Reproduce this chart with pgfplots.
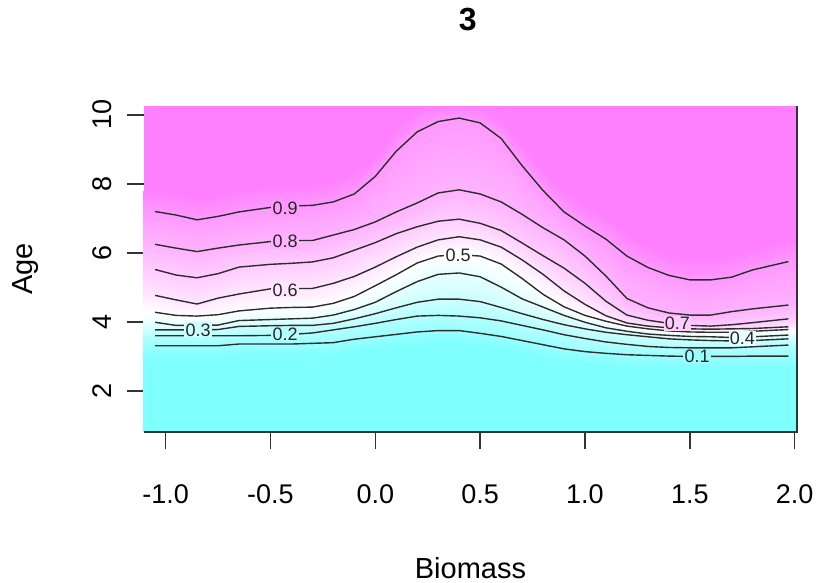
\documentclass[border=0pt]{standalone}
\usepackage{fontspec}
\setmainfont{Liberation Sans}
\usepackage{pgfplots}
\usepackage{pgfplotstable}
\pgfplotsset{compat=1.18}
\definecolor{cmmag}{RGB}{255,128,255}
\definecolor{linecol}{RGB}{45,45,45}

% long table: one scanline per level (v), x varies fastest, 32 points per scanline
\pgfplotstableread{
x y v
-1.2 0.6 0
-1.05 0.6 0
-0.95 0.6 0
-0.85 0.6 0
-0.75 0.6 0
-0.65 0.6 0
-0.5 0.6 0
-0.4 0.6 0
-0.3 0.6 0
-0.2 0.6 0
-0.1 0.6 0
0 0.6 0
0.1 0.6 0
0.2 0.6 0
0.3 0.6 0
0.4 0.6 0
0.5 0.6 0
0.6 0.6 0
0.7 0.6 0
0.8 0.6 0
0.9 0.6 0
1.0 0.6 0
1.1 0.6 0
1.2 0.6 0
1.3 0.6 0
1.4 0.6 0
1.5 0.6 0
1.6 0.6 0
1.7 0.6 0
1.8 0.6 0
1.97 0.6 0
2.1 0.6 0
-1.2 2.96 0
-1.05 2.96 0
-0.95 2.96 0
-0.85 2.96 0
-0.75 2.96 0
-0.65 3.01 0
-0.5 3.01 0
-0.4 3.01 0
-0.3 3.03 0
-0.2 3.05 0
-0.1 3.15 0
0 3.22 0
0.1 3.29 0
0.2 3.36 0
0.3 3.40 0
0.4 3.40 0
0.5 3.32 0
0.6 3.23 0
0.7 3.11 0
0.8 2.99 0
0.9 2.87 0
1.0 2.79 0
1.1 2.74 0
1.2 2.70 0
1.3 2.68 0
1.4 2.66 0
1.5 2.65 0
1.6 2.65 0
1.7 2.65 0
1.8 2.66 0
1.97 2.66 0
2.1 2.66 0
-1.2 3.31 0.1
-1.05 3.31 0.1
-0.95 3.31 0.1
-0.85 3.31 0.1
-0.75 3.31 0.1
-0.65 3.36 0.1
-0.5 3.36 0.1
-0.4 3.36 0.1
-0.3 3.38 0.1
-0.2 3.40 0.1
-0.1 3.50 0.1
0 3.57 0.1
0.1 3.64 0.1
0.2 3.71 0.1
0.3 3.75 0.1
0.4 3.75 0.1
0.5 3.67 0.1
0.6 3.58 0.1
0.7 3.46 0.1
0.8 3.34 0.1
0.9 3.22 0.1
1.0 3.14 0.1
1.1 3.09 0.1
1.2 3.05 0.1
1.3 3.03 0.1
1.4 3.01 0.1
1.5 3.00 0.1
1.6 3.00 0.1
1.7 3.00 0.1
1.8 3.01 0.1
1.97 3.01 0.1
2.1 3.01 0.1
-1.2 3.60 0.2
-1.05 3.60 0.2
-0.95 3.60 0.2
-0.85 3.60 0.2
-0.75 3.60 0.2
-0.65 3.60 0.2
-0.5 3.61 0.2
-0.4 3.64 0.2
-0.3 3.68 0.2
-0.2 3.77 0.2
-0.1 3.86 0.2
0 3.96 0.2
0.1 4.07 0.2
0.2 4.17 0.2
0.3 4.19 0.2
0.4 4.17 0.2
0.5 4.12 0.2
0.6 4.03 0.2
0.7 3.90 0.2
0.8 3.77 0.2
0.9 3.63 0.2
1.0 3.52 0.2
1.1 3.42 0.2
1.2 3.35 0.2
1.3 3.29 0.2
1.4 3.26 0.2
1.5 3.25 0.2
1.6 3.25 0.2
1.7 3.25 0.2
1.8 3.28 0.2
1.97 3.33 0.2
2.1 3.33 0.2
-1.2 3.77 0.3
-1.05 3.77 0.3
-0.95 3.77 0.3
-0.85 3.77 0.3
-0.75 3.78 0.3
-0.65 3.87 0.3
-0.5 3.89 0.3
-0.4 3.90 0.3
-0.3 3.90 0.3
-0.2 3.96 0.3
-0.1 4.09 0.3
0 4.24 0.3
0.1 4.41 0.3
0.2 4.57 0.3
0.3 4.66 0.3
0.4 4.66 0.3
0.5 4.59 0.3
0.6 4.42 0.3
0.7 4.24 0.3
0.8 4.07 0.3
0.9 3.92 0.3
1.0 3.80 0.3
1.1 3.70 0.3
1.2 3.63 0.3
1.3 3.57 0.3
1.4 3.51 0.3
1.5 3.48 0.3
1.6 3.46 0.3
1.7 3.45 0.3
1.8 3.46 0.3
1.97 3.51 0.3
2.1 3.51 0.3
-1.2 3.99 0.4
-1.05 3.99 0.4
-0.95 3.90 0.4
-0.85 3.90 0.4
-0.75 3.91 0.4
-0.65 4.04 0.4
-0.5 4.07 0.4
-0.4 4.09 0.4
-0.3 4.11 0.4
-0.2 4.20 0.4
-0.1 4.36 0.4
0 4.57 0.4
0.1 4.88 0.4
0.2 5.17 0.4
0.3 5.38 0.4
0.4 5.42 0.4
0.5 5.31 0.4
0.6 5.01 0.4
0.7 4.67 0.4
0.8 4.43 0.4
0.9 4.19 0.4
1.0 3.99 0.4
1.1 3.83 0.4
1.2 3.73 0.4
1.3 3.65 0.4
1.4 3.61 0.4
1.5 3.58 0.4
1.6 3.57 0.4
1.7 3.55 0.4
1.8 3.57 0.4
1.97 3.62 0.4
2.1 3.62 0.4
-1.2 4.28 0.5
-1.05 4.28 0.5
-0.95 4.19 0.5
-0.85 4.17 0.5
-0.75 4.21 0.5
-0.65 4.32 0.5
-0.5 4.40 0.5
-0.4 4.42 0.5
-0.3 4.43 0.5
-0.2 4.54 0.5
-0.1 4.74 0.5
0 5.05 0.5
0.1 5.37 0.5
0.2 5.71 0.5
0.3 5.91 0.5
0.4 5.95 0.5
0.5 5.91 0.5
0.6 5.68 0.5
0.7 5.26 0.5
0.8 4.80 0.5
0.9 4.44 0.5
1.0 4.19 0.5
1.1 4.02 0.5
1.2 3.88 0.5
1.3 3.80 0.5
1.4 3.74 0.5
1.5 3.71 0.5
1.6 3.70 0.5
1.7 3.70 0.5
1.8 3.73 0.5
1.97 3.78 0.5
2.1 3.78 0.5
-1.2 4.77 0.6
-1.05 4.77 0.6
-0.95 4.64 0.6
-0.85 4.52 0.6
-0.75 4.69 0.6
-0.65 4.81 0.6
-0.5 4.96 0.6
-0.4 4.97 0.6
-0.3 4.97 0.6
-0.2 5.12 0.6
-0.1 5.32 0.6
0 5.59 0.6
0.1 5.89 0.6
0.2 6.17 0.6
0.3 6.38 0.6
0.4 6.47 0.6
0.5 6.38 0.6
0.6 6.17 0.6
0.7 5.80 0.6
0.8 5.38 0.6
0.9 4.90 0.6
1.0 4.51 0.6
1.1 4.18 0.6
1.2 3.97 0.6
1.3 3.88 0.6
1.4 3.83 0.6
1.5 3.80 0.6
1.6 3.79 0.6
1.7 3.80 0.6
1.8 3.81 0.6
1.97 3.86 0.6
2.1 3.86 0.6
-1.2 5.52 0.7
-1.05 5.52 0.7
-0.95 5.36 0.7
-0.85 5.28 0.7
-0.75 5.40 0.7
-0.65 5.59 0.7
-0.5 5.67 0.7
-0.4 5.70 0.7
-0.3 5.74 0.7
-0.2 5.86 0.7
-0.1 6.08 0.7
0 6.30 0.7
0.1 6.56 0.7
0.2 6.76 0.7
0.3 6.92 0.7
0.4 6.98 0.7
0.5 6.86 0.7
0.6 6.65 0.7
0.7 6.29 0.7
0.8 5.92 0.7
0.9 5.56 0.7
1.0 5.12 0.7
1.1 4.60 0.7
1.2 4.20 0.7
1.3 4.05 0.7
1.4 3.96 0.7
1.5 3.90 0.7
1.6 3.88 0.7
1.7 3.92 0.7
1.8 3.98 0.7
1.97 4.09 0.7
2.1 4.09 0.7
-1.2 6.25 0.8
-1.05 6.25 0.8
-0.95 6.14 0.8
-0.85 6.04 0.8
-0.75 6.14 0.8
-0.65 6.23 0.8
-0.5 6.33 0.8
-0.4 6.36 0.8
-0.3 6.36 0.8
-0.2 6.52 0.8
-0.1 6.68 0.8
0 6.90 0.8
0.1 7.19 0.8
0.2 7.45 0.8
0.3 7.74 0.8
0.4 7.83 0.8
0.5 7.71 0.8
0.6 7.48 0.8
0.7 7.12 0.8
0.8 6.73 0.8
0.9 6.38 0.8
1.0 5.91 0.8
1.1 5.33 0.8
1.2 4.68 0.8
1.3 4.41 0.8
1.4 4.26 0.8
1.5 4.20 0.8
1.6 4.20 0.8
1.7 4.30 0.8
1.8 4.38 0.8
1.97 4.49 0.8
2.1 4.49 0.8
-1.2 7.20 0.9
-1.05 7.20 0.9
-0.95 7.10 0.9
-0.85 6.96 0.9
-0.75 7.06 0.9
-0.65 7.19 0.9
-0.5 7.32 0.9
-0.4 7.36 0.9
-0.3 7.38 0.9
-0.2 7.48 0.9
-0.1 7.71 0.9
0 8.22 0.9
0.1 8.95 0.9
0.2 9.51 0.9
0.3 9.81 0.9
0.4 9.91 0.9
0.5 9.77 0.9
0.6 9.32 0.9
0.7 8.53 0.9
0.8 7.81 0.9
0.9 7.19 0.9
1.0 6.78 0.9
1.1 6.40 0.9
1.2 5.91 0.9
1.3 5.58 0.9
1.4 5.35 0.9
1.5 5.22 0.9
1.6 5.22 0.9
1.7 5.30 0.9
1.8 5.51 0.9
1.97 5.75 0.9
2.1 5.75 0.9
-1.2 7.80 1
-1.05 7.80 1
-0.95 7.70 1
-0.85 7.56 1
-0.75 7.66 1
-0.65 7.79 1
-0.5 7.92 1
-0.4 7.96 1
-0.3 7.98 1
-0.2 8.08 1
-0.1 8.31 1
0 8.82 1
0.1 9.55 1
0.2 10.10 1
0.3 10.20 1
0.4 10.22 1
0.5 10.20 1
0.6 9.92 1
0.7 9.13 1
0.8 8.41 1
0.9 7.79 1
1.0 7.38 1
1.1 7.00 1
1.2 6.51 1
1.3 6.18 1
1.4 5.95 1
1.5 5.82 1
1.6 5.82 1
1.7 5.90 1
1.8 6.11 1
1.97 6.35 1
2.1 6.35 1
}\gridtable

\pgfplotsset{
  contourline/.style={draw=linecol, line width=0.7pt, no marks,
    restrict x to domain=-1.1:2.0},
}
\tikzset{clab/.style={font=\fontsize{9}{10}\selectfont, inner sep=0.6pt, text=black!85}}

\begin{document}
\begin{tikzpicture}
\useasboundingbox (-72pt,-75.5pt) rectangle (336pt,216pt);
\begin{axis}[
  at={(0pt,0pt)}, anchor=south west,
  scale only axis, width=326.5pt, height=163pt,
  xmin=-1.103, xmax=2.011, ymin=0.81, ymax=10.26,
  axis line style={draw=none},
  axis background/.style={fill=cmmag},
  colormap={cm}{rgb255=(128,255,255) rgb255=(255,255,255) rgb255=(255,128,255)},
  point meta min=0, point meta max=1,
  tick align=outside, xtick pos=bottom, ytick pos=left,
  major tick length=8.5pt,
  tick style={line width=0.75pt, color=black!80},
  xtick={-1,-0.5,0,0.5,1,1.5,2},
  xticklabels={-1.0,-0.5,0.0,0.5,1.0,1.5,2.0},
  ytick={2,4,6,8,10},
  yticklabels={2,4,6,8,10},
  /pgf/number format/assume math mode=true,
  tick label style={font=\fontsize{13.5}{16}\selectfont},
  xticklabel style={anchor=center, yshift=-22.5pt},
  yticklabel style={rotate=90, anchor=center, yshift=12.5pt},
  xlabel={Biomass}, ylabel={Age},
  label style={font=\fontsize{14.5}{17}\selectfont},
  xlabel style={at={(axis description cs:0.5,-0.417)}, anchor=center},
  ylabel style={at={(axis description cs:-0.182,0.5)}, anchor=center},
  title={3},
  title style={at={(axis description cs:0.496,1.227)}, anchor=center,
    font=\fontsize{16}{18}\selectfont\bfseries},
]
\addplot[surf, shader=interp, mesh/rows=12, mesh/cols=32, point meta=\thisrow{v}]
  table[x=x, y=y] {\gridtable};
\addplot[contourline, restrict expr to domain={\thisrow{v}}{0.09:0.11}] table[x=x,y=y] {\gridtable};
\addplot[contourline, restrict expr to domain={\thisrow{v}}{0.19:0.21}] table[x=x,y=y] {\gridtable};
\addplot[contourline, restrict expr to domain={\thisrow{v}}{0.29:0.31}] table[x=x,y=y] {\gridtable};
\addplot[contourline, restrict expr to domain={\thisrow{v}}{0.39:0.41}] table[x=x,y=y] {\gridtable};
\addplot[contourline, restrict expr to domain={\thisrow{v}}{0.49:0.51}] table[x=x,y=y] {\gridtable};
\addplot[contourline, restrict expr to domain={\thisrow{v}}{0.59:0.61}] table[x=x,y=y] {\gridtable};
\addplot[contourline, restrict expr to domain={\thisrow{v}}{0.69:0.71}] table[x=x,y=y] {\gridtable};
\addplot[contourline, restrict expr to domain={\thisrow{v}}{0.79:0.81}] table[x=x,y=y] {\gridtable};
\addplot[contourline, restrict expr to domain={\thisrow{v}}{0.89:0.91}] table[x=x,y=y] {\gridtable};
\node[clab, fill={rgb,255:red,255;green,153;blue,255}] at (axis cs:-0.43,7.30) {0.9};
\node[clab, fill={rgb,255:red,255;green,178;blue,255}] at (axis cs:-0.43,6.33) {0.8};
\node[clab, fill={rgb,255:red,255;green,230;blue,255}] at (axis cs:-0.43,4.93) {0.6};
\node[clab, fill=white] at (axis cs:0.395,5.93) {0.5};
\node[clab, fill={rgb,255:red,204;green,255;blue,255}] at (axis cs:-0.845,3.77) {0.3};
\node[clab, fill={rgb,255:red,178;green,255;blue,255}] at (axis cs:-0.43,3.64) {0.2};
\node[clab, fill={rgb,255:red,255;green,204;blue,255}] at (axis cs:1.44,3.96) {0.7};
\node[clab, fill={rgb,255:red,230;green,255;blue,255}] at (axis cs:1.75,3.53) {0.4};
\node[clab, fill={rgb,255:red,153;green,255;blue,255}] at (axis cs:1.535,3.00) {0.1};
\end{axis}
\draw[line width=0.75pt, color=black!80] (0pt,0pt) -- (326.5pt,0pt) -- (326.5pt,163pt);
\end{tikzpicture}
\end{document}
